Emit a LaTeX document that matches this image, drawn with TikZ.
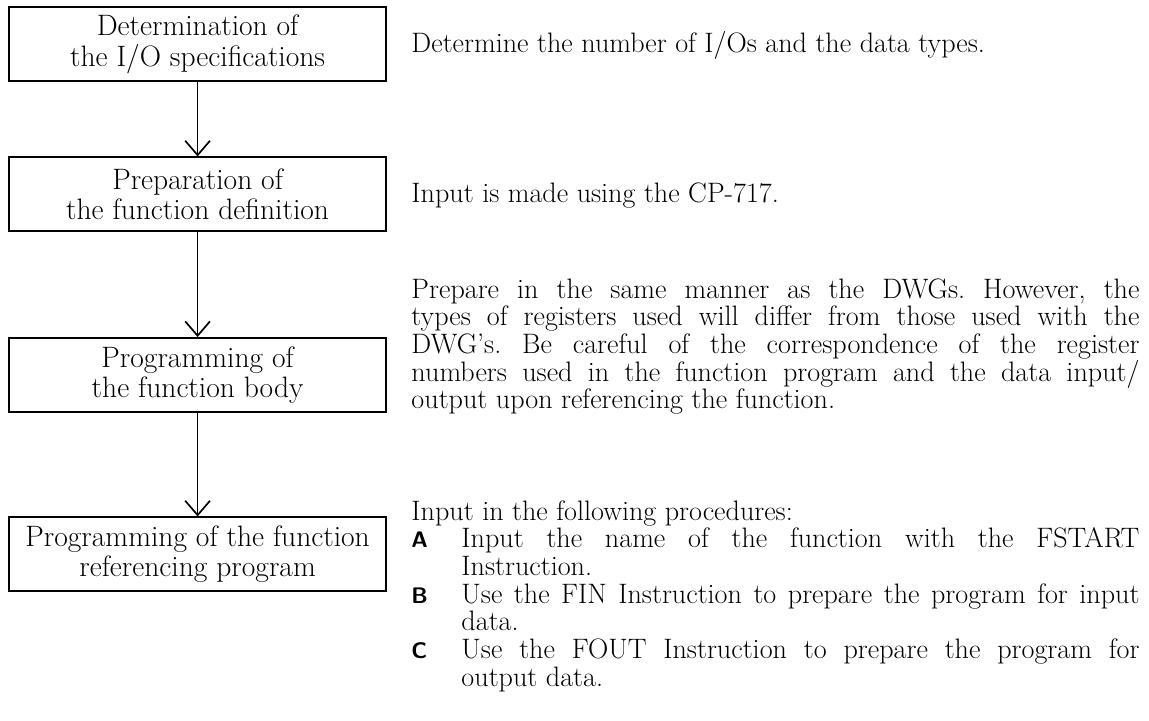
\documentclass[tikz,border=0pt]{standalone}
\usetikzlibrary{arrows.meta}
\frenchspacing
\newcommand{\tagletter}[1]{\makebox[1.25cm][l]{\fontsize{16}{16}\sffamily\bfseries #1}}
\begin{document}
\begin{tikzpicture}[
    box/.style={draw, line width=1.4pt, minimum width=9.43cm, minimum height=1.85cm, align=center, inner sep=2pt, font=\fontsize{21}{21.5}\selectfont},
    note/.style={anchor=base west, inner sep=0pt, text width=18.2cm, align=justify, font=\fontsize{20}{19.7}\selectfont},
    flow/.style={-{Straight Barb[length=0.36cm, width=0.62cm, line width=1.2pt]}, line width=1.2pt}
]
    \useasboundingbox (0, 0) rectangle (28.725, -18);
    % flow of boxes
    \node[box] (1) at (4.94, -1.11) {Determination of\\the I/O specifications};
    \node[box] (2) at (4.94, -4.86) {Preparation of\\the function definition};
    \node[box] (3) at (4.94, -9.375) {Programming of\\the function body};
    \node[box] (4) at (4.94, -13.86) {Programming of the function\\referencing program};
    \draw[flow] (1) -- (2);
    \draw[flow] (2) -- (3);
    \draw[flow] (3) -- (4);
    % descriptions
    \node[note] (d1) at (10.28, -1.3) {Determine the number of I/Os and the data types.};
    \node[note] (d2) at (10.28, -5.05) {Input is made using the CP-717.};
    \node[note] (d3) at (10.28, -7.45) {Prepare in the same manner as the DWGs. However, the\linebreak
        types of registers used will differ from those used with the\linebreak
        DWG's. Be careful of the correspondence of the register\linebreak
        numbers used in the function program and the data input/\linebreak
        output upon referencing the function.};
    \node[note] (d4) at (10.28, -13.0) {\noindent Input in the following procedures:\par
        \hangindent=1.25cm\hangafter=1\noindent\tagletter{A}Input the name of the function with the FSTART\linebreak
        Instruction.\par
        \hangindent=1.25cm\hangafter=1\noindent\tagletter{B}Use the FIN Instruction to prepare the program for input\linebreak
        data.\par
        \hangindent=1.25cm\hangafter=1\noindent\tagletter{C}Use the FOUT Instruction to prepare the program for\linebreak
        output data.\par};
\end{tikzpicture}
\end{document}
